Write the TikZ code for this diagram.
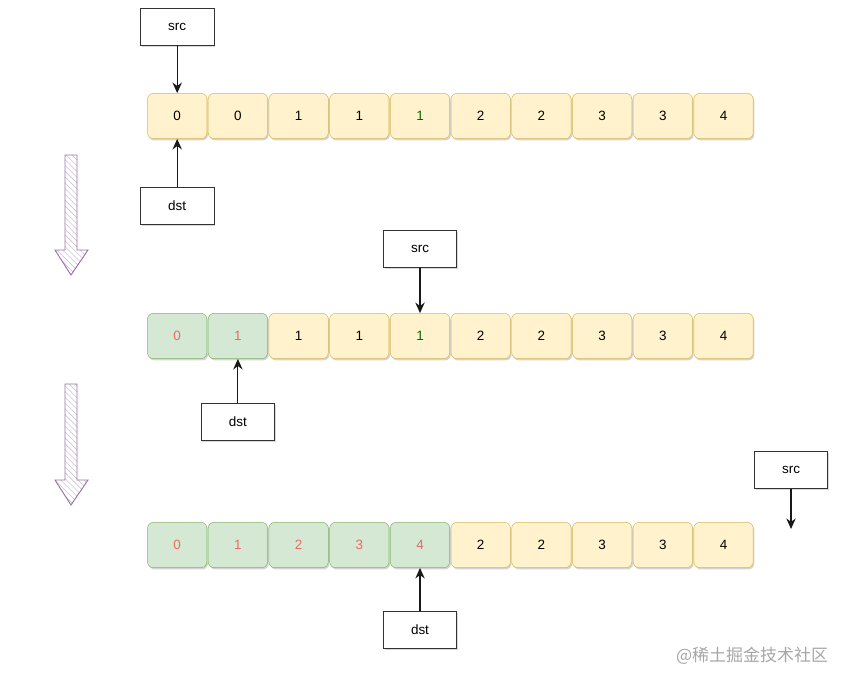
\documentclass[tikz,border=0pt]{standalone}
\usepackage{fontspec}
\setmainfont{Liberation Sans}
\newfontfamily\cjk{Noto Sans CJK SC}
\usetikzlibrary{arrows.meta,shadows,patterns.meta}

\definecolor{cellyel}{HTML}{FFF2CC}
\definecolor{lineyel}{HTML}{D6B656}
\definecolor{cellgrn}{HTML}{D5E8D4}
\definecolor{linegrn}{HTML}{82B366}
\definecolor{numred}{HTML}{EA6B66}
\definecolor{numgrn}{HTML}{006600}
\definecolor{arrpur}{HTML}{9673A6}

\begin{document}
\begin{tikzpicture}[
  x=0.03cm, y=-0.03cm,
  cell/.style={draw=lineyel, fill=cellyel, rounded corners=5pt, minimum width=1.78cm,
    minimum height=1.36cm, inner sep=0pt, font=\fontsize{11.5}{13}\selectfont,
    drop shadow={shadow xshift=1pt, shadow yshift=-1.5pt, opacity=0.35}},
  done/.style={draw=linegrn, fill=cellgrn, text=numred},
  hit/.style={text=numgrn},
  plain/.style={},
  ptr/.style={draw=black!80, fill=white, minimum width=2.2cm, minimum height=1.12cm,
    inner sep=0pt, font=\fontsize{11.5}{13}\selectfont,
    drop shadow={shadow xshift=1pt, shadow yshift=-1pt, opacity=0.3}},
  link/.style={-{Stealth[length=9pt,width=8pt]}, line width=1pt, black!90},
  step arrow/.style={draw=arrpur, line width=0.8pt,
    pattern={Lines[angle=-45,distance=3.5pt,line width=0.5pt]}, pattern color=arrpur!45},
  watermark/.style={font=\cjk\fontsize{14.5}{16}\selectfont, text=black!35}
]
\useasboundingbox (0,0) rectangle (852,686);

% === Row 1: start ===
\foreach \v/\s [count=\i] in {0/plain,0/plain,1/plain,1/plain,1/hit,2/plain,2/plain,3/plain,3/plain,4/plain}
  \node[cell,\s] (a\i) at (116.5+60.7*\i, 116) {\v};

\node[ptr] (srcA) at (a1 |- 0,27) {src};
\node[ptr] (dstA) at (a1 |- 0,206) {dst};
\draw[link] (srcA) -- (a1);
\draw[link] (dstA) -- (a1);

% step arrow
\draw[step arrow] (65,155) -- (77,155) -- (77,250) -- (88,250) -- (71,275)
  -- (55,250) -- (65,250) -- cycle;

% === Row 2: after two moves ===
\foreach \v/\s [count=\i] in {0/done,1/done,1/plain,1/plain,1/hit,2/plain,2/plain,3/plain,3/plain,4/plain}
  \node[cell,\s] (b\i) at (116.5+60.7*\i, 336) {\v};

\node[ptr] (srcB) at (b5 |- 0,249) {src};
\node[ptr] (dstB) at (b2 |- 0,422) {dst};
\draw[link] (srcB) -- (b5);
\draw[link] (dstB) -- (b2);

% step arrow
\draw[step arrow] (65,384) -- (77,384) -- (77,480) -- (88,480) -- (71,505)
  -- (55,480) -- (65,480) -- cycle;

% === Row 3: finished ===
\foreach \v/\s [count=\i] in {0/done,1/done,2/done,3/done,4/done,2/plain,2/plain,3/plain,3/plain,4/plain}
  \node[cell,\s] (c\i) at (116.5+60.7*\i, 545) {\v};

\node[ptr] (srcC) at (791,470) {src};
\coordinate (endC) at (791,529);
\node[ptr] (dstC) at (c5 |- 0,630) {dst};
\draw[link] (srcC) -- (endC);
\draw[link] (dstC) -- (c5);

\node[watermark] (wm) at (752,656) {@稀土掘金技术社区};
\end{tikzpicture}
\end{document}
